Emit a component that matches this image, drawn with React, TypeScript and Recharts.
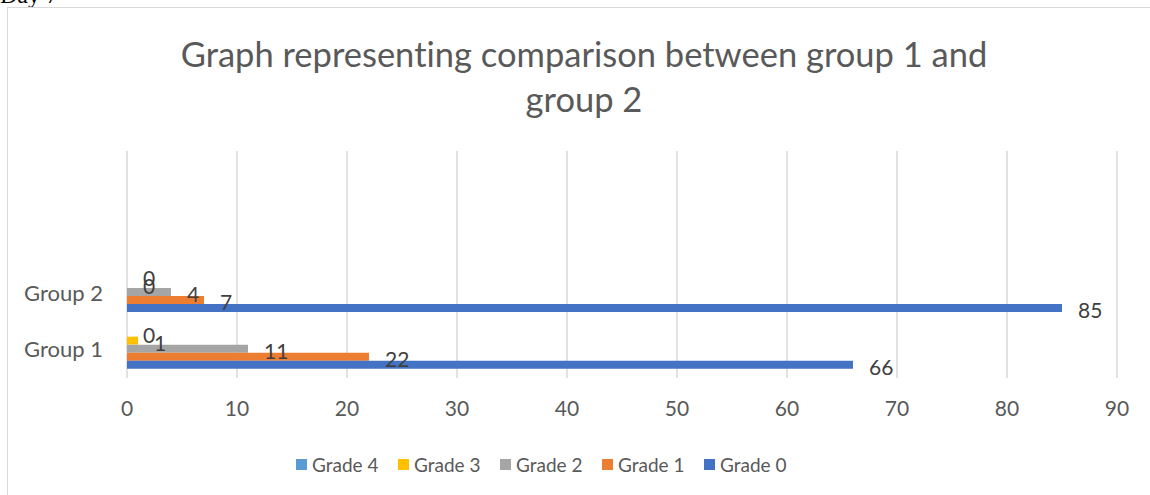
import { BarChart, Bar, XAxis, YAxis, CartesianGrid, LabelList } from 'recharts'

// Excel order: first category sits at the bottom of the plot
const CATEGORIES = ['Group 1', 'Group 2', '', '']
const GRADE_0 = [66, 85, null, null]
const GRADE_1 = [22, 7, null, null]
const GRADE_2 = [11, 4, null, null]
const GRADE_3 = [1, 0, null, null]
const GRADE_4 = [0, 0, null, null]
const X_TICKS = [0, 10, 20, 30, 40, 50, 60, 70, 80, 90]

const SERIES = [
  { key: 'g4', name: 'Grade 4', color: '#5B9BD5', values: GRADE_4 },
  { key: 'g3', name: 'Grade 3', color: '#FFC000', values: GRADE_3 },
  { key: 'g2', name: 'Grade 2', color: '#A5A5A5', values: GRADE_2 },
  { key: 'g1', name: 'Grade 1', color: '#ED7D31', values: GRADE_1 },
  { key: 'g0', name: 'Grade 0', color: '#4472C4', values: GRADE_0 },
]

const data = CATEGORIES.map((name, i) => {
  const row: Record<string, any> = { id: i, name }
  SERIES.forEach((s) => {
    row[s.key] = s.values[i]
  })
  return row
})

const FONT = 'Lato, "Open Sans", sans-serif'

function BarLabel(props: any) {
  const { x, y, width, height, value } = props
  if (value == null) return null
  return (
    <text
      x={x + (width || 0) + 16}
      y={y + height / 2 + 2}
      dominantBaseline="central"
      fontFamily={FONT}
      fontSize={21}
      fill="#404040"
    >
      {value}
    </text>
  )
}

export default function App() {
  return (
    <div style={{ position: 'absolute', left: 0, top: 0, width: 1150, height: 495, overflow: 'hidden', background: '#fff' }}>
      <div
        style={{
          position: 'absolute',
          left: 0,
          top: -17,
          fontFamily: '"Liberation Serif", serif',
          fontSize: 24,
          lineHeight: '24px',
          color: '#000',
        }}
      >
        Day 7
      </div>
      <div
        style={{
          position: 'absolute',
          left: 7,
          top: 7,
          width: 1160,
          height: 520,
          border: '1px solid #D9D9D9',
        }}
      />
      <div
        style={{
          position: 'absolute',
          left: 8,
          top: 31,
          width: 1152,
          textAlign: 'center',
          fontFamily: FONT,
          fontSize: 34.5,
          lineHeight: '45px',
          color: '#595959',
          fontVariantLigatures: 'none',
        }}
      >
        Graph representing comparison between group 1 and
        <br />
        group 2
      </div>
      <div style={{ position: 'absolute', left: 0, top: 0 }}>
        <BarChart
          width={1150}
          height={495}
          data={data}
          layout="vertical"
          margin={{ top: 151, right: 33, bottom: 87, left: 27 }}
          barGap={0}
          barCategoryGap="13%"
        >
          <CartesianGrid horizontal={false} vertical stroke="#D9D9D9" strokeWidth={1.5} />
          <XAxis
            type="number"
            domain={[0, 90]}
            ticks={X_TICKS}
            interval={0}
            axisLine={false}
            tickLine={false}
            tickMargin={17}
            height={30}
            tick={{ fontFamily: FONT, fontSize: 21, fill: '#595959' }}
          />
          <YAxis
            type="category"
            dataKey="id"
            reversed
            width={100}
            axisLine={false}
            tickLine={false}
            tickMargin={18}
            tickFormatter={(i: number) => CATEGORIES[i]}
            tick={{ fontFamily: FONT, fontSize: 22, fill: '#595959' }}
          />
          {SERIES.map((s) => (
            <Bar
              key={s.key}
              dataKey={s.key}
              name={s.name}
              fill={s.color}
              minPointSize={0.01}
              isAnimationActive={false}
            >
              <LabelList dataKey={s.key} content={BarLabel} />
            </Bar>
          ))}
        </BarChart>
      </div>
      <div style={{ position: 'absolute', left: 296, top: 452, display: 'flex', fontFamily: FONT, fontSize: 19, color: '#595959' }}>
        {SERIES.map((s) => (
          <div key={s.key} style={{ width: 102, display: 'flex', alignItems: 'center', height: 24 }}>
            <span style={{ width: 11, height: 11, background: s.color, marginRight: 5, flexShrink: 0 }} />
            <span>{s.name}</span>
          </div>
        ))}
      </div>
    </div>
  )
}
